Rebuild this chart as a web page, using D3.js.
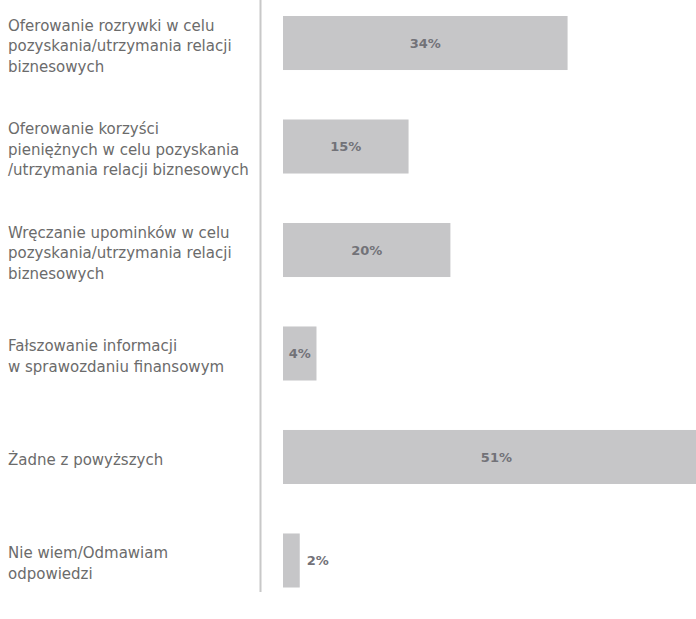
<!DOCTYPE html>
<html lang="pl">
<head>
  <meta charset="UTF-8">
  <title>Bar chart</title>
  <script src="https://d3js.org/d3.v7.min.js"></script>
  <style>
    body { margin: 0; background: #fff; }
  </style>
</head>
<body>
  <div class="canvas"></div>
  <script>
    const categories = [
      "Oferowanie rozrywki w celu\npozyskania/utrzymania relacji\nbiznesowych",
      "Oferowanie korzyści\npieniężnych w celu pozyskania\n/utrzymania relacji biznesowych",
      "Wręczanie upominków w celu\npozyskania/utrzymania relacji\nbiznesowych",
      "Fałszowanie informacji\nw sprawozdaniu finansowym",
      "Żadne z powyższych",
      "Nie wiem/Odmawiam\nodpowiedzi"
    ];
    const values = [34, 15, 20, 4, 51, 2];

    const width = 696;
    const height = 619;

    const svg = d3.select('.canvas')
      .append('svg')
      .attr('width', width)
      .attr('height', height)
      .style('font-family', '"DejaVu Sans", sans-serif');

    // x scale: share of respondents (%)
    const x = d3.scaleLinear()
      .domain([0, 100])
      .range([283, 283 + 837]);

    const y = d3.scaleBand()
      .domain(categories)
      .range([16, 587.5])
      .paddingInner(0.478)
      .paddingOuter(0);

    // vertical separator line
    svg.append('line')
      .attr('x1', 260.5)
      .attr('x2', 260.5)
      .attr('y1', 0)
      .attr('y2', 592)
      .attr('stroke', '#c8c8c8')
      .attr('stroke-width', 2);

    // bars
    svg.selectAll('.bar')
      .data(values)
      .enter()
      .append('rect')
      .attr('class', 'bar')
      .attr('x', x(0))
      .attr('y', (d, i) => y(categories[i]))
      .attr('width', d => x(d) - x(0))
      .attr('height', y.bandwidth())
      .attr('fill', '#c6c6c8');

    // value labels
    svg.selectAll('.value')
      .data(values)
      .enter()
      .append('text')
      .attr('class', 'value')
      .attr('x', d => (x(d) - x(0) < 30) ? x(d) + 7 : (x(0) + x(d)) / 2)
      .attr('y', (d, i) => y(categories[i]) + y.bandwidth() / 2)
      .attr('dy', '0.35em')
      .attr('text-anchor', d => (x(d) - x(0) < 30) ? 'start' : 'middle')
      .attr('font-size', 13)
      .attr('font-weight', 'bold')
      .attr('fill', '#727278')
      .text(d => d + '%');

    // category labels
    const lineH = 20.5;
    const labels = svg.selectAll('.cat')
      .data(categories)
      .enter()
      .append('text')
      .attr('class', 'cat')
      .attr('font-size', 15)
      .attr('fill', '#6b6b6b')
      .attr('transform', d => {
        const n = d.split('\n').length;
        const cy = y(d) + y.bandwidth() / 2 + 3;
        return `translate(8, ${cy - (n - 1) * lineH / 2})`;
      });

    labels.selectAll('tspan')
      .data(d => d.split('\n'))
      .enter()
      .append('tspan')
      .attr('x', 0)
      .attr('y', (d, i) => i * lineH)
      .attr('dy', '0.35em')
      .text(d => d);
  </script>
</body>
</html>
